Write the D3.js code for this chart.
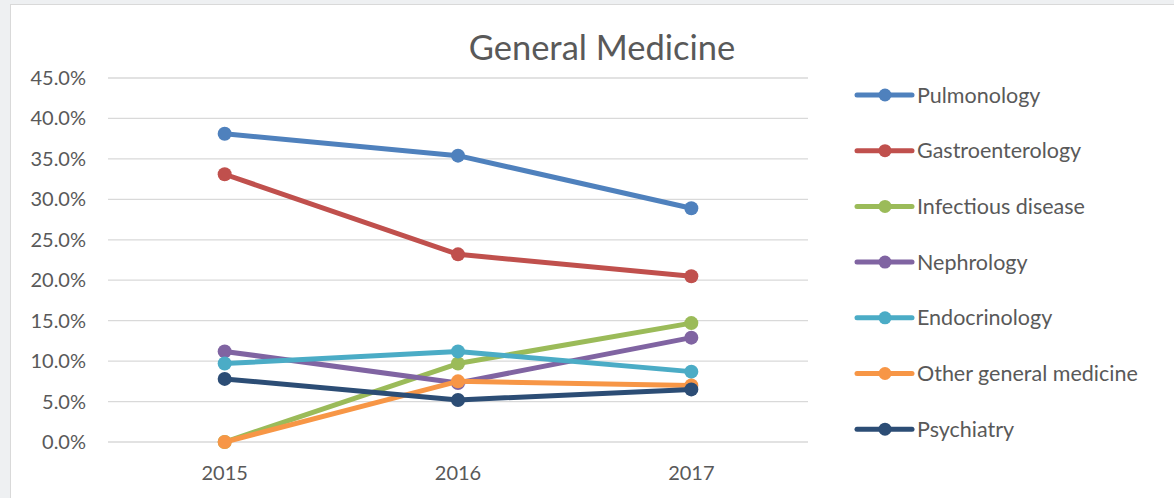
<!DOCTYPE html>
<html>
<head>
<meta charset="utf-8">
<script src="https://cdn.jsdelivr.net/npm/d3@7"></script>
<style>
  body { margin: 0; background: #eef0f2; }
  svg { display: block; font-family: Lato, "Open Sans", sans-serif; }
</style>
</head>
<body>
<div id="chart"></div>
<script>
// data
const years = ["2015", "2016", "2017"];
const seriesNames = ["Pulmonology", "Gastroenterology", "Infectious disease", "Nephrology",
    "Endocrinology", "Other general medicine", "Psychiatry"];
const pulmonology = [38.1, 35.4, 28.9];
const gastroenterology = [33.1, 23.2, 20.5];
const infectious = [0.0, 9.7, 14.7];
const nephrology = [11.2, 7.3, 12.9];
const endocrinology = [9.7, 11.2, 8.7];
const otherGeneral = [0.0, 7.5, 7.0];
const psychiatry = [7.8, 5.2, 6.5];
const colors = ["#4f81bd", "#c0504d", "#9bbb59", "#8064a2", "#4bacc6", "#f79646", "#2c4d75"];
const yTicks = [0, 5, 10, 15, 20, 25, 30, 35, 40, 45];

const values = [pulmonology, gastroenterology, infectious, nephrology, endocrinology, otherGeneral, psychiatry];
const series = seriesNames.map((name, i) => ({ name, color: colors[i], values: values[i] }));

const width = 1174, height = 498;
const svg = d3.select("#chart").append("svg")
    .attr("width", width)
    .attr("height", height);

// white chart panel
svg.append("rect")
    .attr("x", 10.5).attr("y", 4.5)
    .attr("width", width).attr("height", height)
    .attr("fill", "#fff")
    .attr("stroke", "#d9d9d9");

const x = d3.scaleBand().domain(years).range([108, 808]);
const y = d3.scaleLinear().domain([0, 45]).range([442, 78]);

// gridlines
svg.append("g").selectAll("line")
    .data(yTicks)
    .enter().append("line")
    .attr("x1", 108).attr("x2", 808)
    .attr("y1", d => y(d)).attr("y2", d => y(d))
    .attr("stroke", "#d9d9d9")
    .attr("stroke-width", 1.3);

// y axis labels
svg.append("g").selectAll("text")
    .data(yTicks)
    .enter().append("text")
    .attr("x", 86)
    .attr("y", d => y(d))
    .attr("dy", "0.35em")
    .attr("text-anchor", "end")
    .attr("fill", "#595959")
    .style("font-size", "20px")
    .text(d => d.toFixed(1) + "%");

// x axis labels
svg.append("g").selectAll("text")
    .data(years)
    .enter().append("text")
    .attr("x", d => x(d) + x.bandwidth() / 2)
    .attr("y", 480)
    .attr("text-anchor", "middle")
    .attr("fill", "#595959")
    .style("font-size", "20px")
    .text(d => d);

// title
svg.append("text")
    .attr("x", 602).attr("y", 60)
    .attr("text-anchor", "middle")
    .attr("fill", "#595959")
    .style("font-size", "34.5px")
    .text("General Medicine");

const line = d3.line()
    .x((d, i) => x(years[i]) + x.bandwidth() / 2)
    .y(d => y(d));

const g = svg.append("g").selectAll("g")
    .data(series)
    .enter().append("g");

g.append("path")
    .attr("d", d => line(d.values))
    .attr("fill", "none")
    .attr("stroke", d => d.color)
    .attr("stroke-width", 5)
    .attr("stroke-linejoin", "round")
    .attr("stroke-linecap", "round");

g.selectAll("circle")
    .data(d => d.values.map((v, i) => ({ v, i, color: d.color })))
    .enter().append("circle")
    .attr("cx", d => x(years[d.i]) + x.bandwidth() / 2)
    .attr("cy", d => y(d.v))
    .attr("r", 7)
    .attr("fill", d => d.color);

// legend
const legend = svg.append("g").selectAll("g")
    .data(series)
    .enter().append("g")
    .attr("transform", (d, i) => `translate(857, ${95 + i * 55.7})`);

legend.append("line")
    .attr("x1", 0).attr("x2", 55)
    .attr("stroke", d => d.color)
    .attr("stroke-width", 5)
    .attr("stroke-linecap", "round");

legend.append("circle")
    .attr("cx", 28).attr("r", 6.5)
    .attr("fill", d => d.color);

legend.append("text")
    .attr("x", 60)
    .attr("dy", "0.35em")
    .attr("fill", "#595959")
    .style("font-size", "21.5px")
    .text(d => d.name);
</script>
</body>
</html>
